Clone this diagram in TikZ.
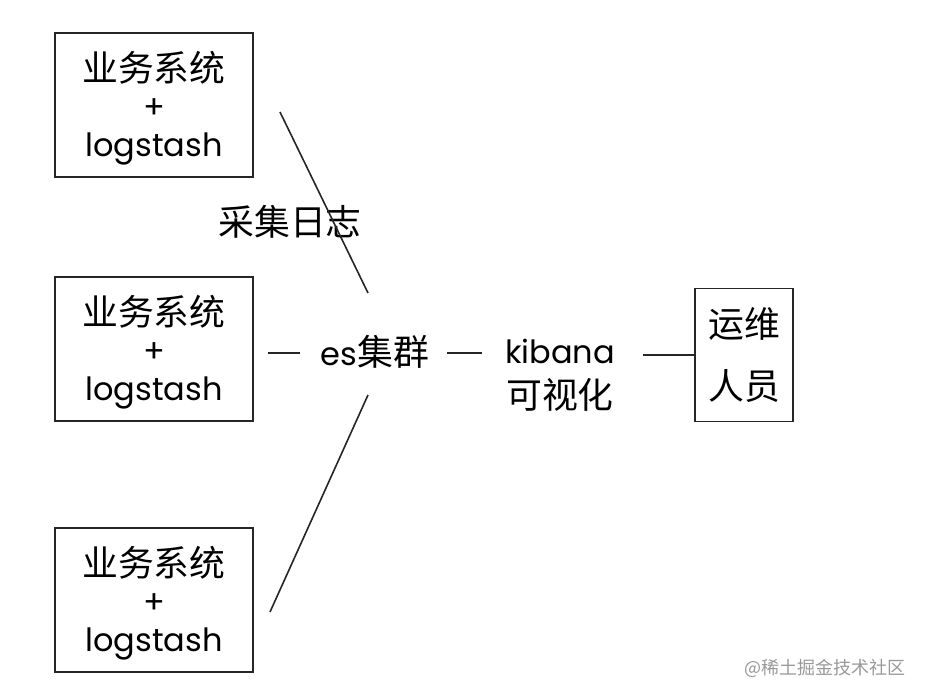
\documentclass[tikz,border=0pt]{standalone}
\usepackage{fontspec}
\setmainfont{Poppins}
\newfontfamily\cjk[Scale=1.12]{Noto Sans CJK SC}
\newfontfamily\cjkwm{Noto Sans CJK SC}
\begin{document}
\begin{tikzpicture}[x=0.75pt,y=-0.75pt,
  sysbox/.style={draw=black!85,line width=1.3pt,minimum width=198*0.75pt,minimum height=144*0.75pt,inner sep=0pt},
  plain/.style={inner sep=0pt,align=center,font=\fontsize{24}{28}\selectfont},
  conn/.style={draw=black!85,line width=1.2pt}]
\useasboundingbox (0,0) rectangle (926,700);
\fill[white] (0,0) rectangle (926,700);
\node[sysbox] (b1) at (154,105) {};
\node[sysbox] (b2) at (154,349) {};
\node[sysbox] (b3) at (154,600) {};
\node[plain] (t1) at ([yshift=-3*0.75pt]b1.center) {{\cjk 业务系统}\\+\\logstash};
\node[plain] (t2) at ([yshift=-3*0.75pt]b2.center) {{\cjk 业务系统}\\+\\logstash};
\node[plain] (t3) at ([yshift=-3*0.75pt]b3.center) {{\cjk 业务系统}\\+\\logstash};
\node[draw=black!85,line width=1.3pt,minimum width=98*0.75pt,minimum height=133*0.75pt,inner sep=0pt,align=center,font=\fontsize{24}{46}\selectfont] (op) at (744,355) {{\cjk 运维}\\{\cjk 人员}};
\node[plain] (es) at (375,352) {es{\cjk 集群}};
\node[plain,font=\fontsize{24}{34}\selectfont] (kb) at (560,375) {kibana\\{\cjk 可视化}};
\node[plain] (lab) at (290,222) {\cjk 采集日志};
\node[inner sep=0pt,text=black!40,font=\cjkwm\fontsize{13.5}{16}\selectfont] (wm) at (825,668) {@稀土掘金技术社区};
\coordinate (a1) at (280,112);
\coordinate (a2) at (368,293);
\coordinate (c1) at (268,353);
\coordinate (c2) at (300,353);
\coordinate (d1) at (447,353);
\coordinate (d2) at (482,353);
\coordinate (e1) at (643,355);
\coordinate (e2) at (op.west);
\coordinate (f1) at (368,395);
\coordinate (f2) at (270,612);
\draw[conn] (a1) -- (a2);
\draw[conn] (c1) -- (c2);
\draw[conn] (d1) -- (d2);
\draw[conn] (e1) -- (e2);
\draw[conn] (f1) -- (f2);
\end{tikzpicture}
\end{document}
